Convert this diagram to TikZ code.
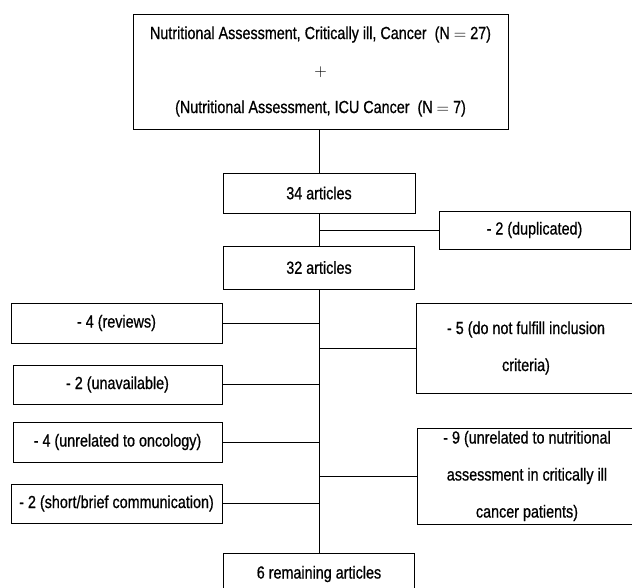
\documentclass[tikz,border=0pt]{standalone}
\usepackage{fontspec}
\setmainfont{Liberation Sans}[FakeStretch=0.82, FakeBold=0.7]
\begin{document}
\begin{tikzpicture}[x=1pt,y=-1pt,
  box/.style={draw, rectangle, line width=0.8pt, inner sep=0pt, align=center,
    font=\fontsize{17.5}{21}\selectfont},
  link/.style={line width=0.8pt}]
\useasboundingbox (0,0) rectangle (632,588);
\node[box, minimum width=375pt, minimum height=115pt] (all) at (320.5,71.5) {Nutritional Assessment, Critically ill, Cancer~~(N $=$ 27)\\[16pt] $+$\\[16pt] (Nutritional Assessment, ICU Cancer~~(N $=$ 7)};
\node[box, minimum width=192pt, minimum height=40pt] (a34) at (319,193) {34 articles};
\node[box, minimum width=191pt, minimum height=38pt] (dup) at (534.5,230) {- 2 (duplicated)};
\node[box, minimum width=191pt, minimum height=43pt] (a32) at (319,267.5) {32 articles};
\node[box, minimum width=211pt, minimum height=40pt] (rev) at (116.5,323) {- 4 (reviews)};
\node[box, minimum width=209pt, minimum height=39pt] (unav) at (117.5,384.5) {- 2 (unavailable)};
\node[box, minimum width=209pt, minimum height=40pt] (onc) at (117.5,442) {- 4 (unrelated to oncology)};
\node[box, minimum width=211pt, minimum height=39pt] (brief) at (116.5,503.5) {- 2 (short/brief communication)};
\node[box, minimum width=220pt, minimum height=90pt] (incl) at (526,348) {- 5 (do not fulfill inclusion\\[16pt] criteria)};
\node[box, minimum width=220pt, minimum height=96pt] (nutr) at (527,476) {- 9 (unrelated to nutritional\\[16pt] assessment in critically ill\\[16pt] cancer patients)};
\node[box, minimum width=191pt, minimum height=42pt] (rem) at (319,574) {6 remaining articles};
% trunk
\draw[link] (all.south -| a34.north) -- (a34.north);
\draw[link] (a34) -- (a32);
\draw[link] (a32) -- (rem);
% side branches
\draw[link] (dup) -- (dup -| a34.south);
\draw[link] (rev) -- (rev -| a32.south);
\draw[link] (unav) -- (unav -| a32.south);
\draw[link] (onc) -- (onc -| a32.south);
\draw[link] (brief) -- (brief -| a32.south);
\draw[link] (incl) -- (incl -| a32.south);
\draw[link] (nutr) -- (nutr -| a32.south);
\end{tikzpicture}
\end{document}
